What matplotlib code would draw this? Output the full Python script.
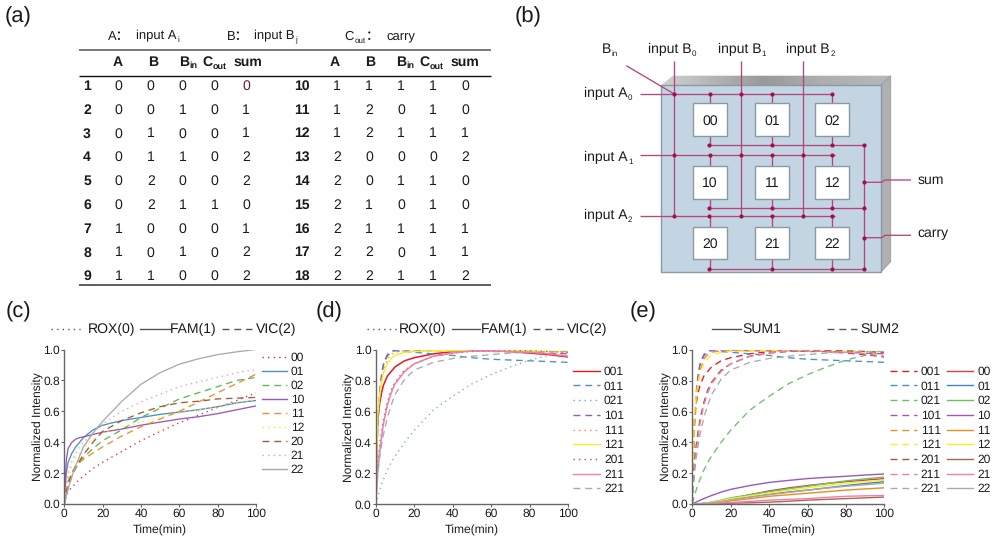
import numpy as np
import matplotlib
matplotlib.use("Agg")
import matplotlib.pyplot as plt
from matplotlib.patches import Polygon, Rectangle

plt.rcParams['font.family'] = ['Liberation Sans', 'Noto Sans CJK SC', 'DejaVu Sans']
plt.rcParams['text.hinting'] = 'none'
plt.rcParams['text.hinting_factor'] = 1

# ---------- table (a) ----------
rows_left = [[1,0,0,0,0,0],[2,0,0,1,0,1],[3,0,1,0,0,1],[4,0,1,1,0,2],[5,0,2,0,0,2],
             [6,0,2,1,1,0],[7,1,0,0,0,1],[8,1,0,1,0,2],[9,1,1,0,0,2]]
rows_right = [[10,1,1,1,1,0],[11,1,2,0,1,0],[12,1,2,1,1,1],[13,2,0,0,0,2],[14,2,0,1,1,0],
              [15,2,1,0,1,0],[16,2,1,1,1,1],[17,2,2,0,1,1],[18,2,2,1,1,2]]

# ---------- panel (c) ----------
t_c = [0,1,2,4,6,8,10,15,20,30,40,50,60,70,80,90,100]
c_names = ['00','01','02','10','11','12','20','21','22']
c_00 = [0,.05,.08,.11,.135,.16,.18,.23,.27,.34,.41,.47,.525,.575,.625,.67,.72]
c_01 = [0,.2,.27,.33,.37,.40,.43,.48,.51,.54,.56,.58,.595,.61,.63,.655,.67]
c_02 = [0,.06,.10,.18,.23,.27,.30,.36,.41,.48,.56,.62,.68,.72,.76,.80,.82]
c_10 = [0,.28,.36,.40,.42,.43,.435,.45,.465,.485,.51,.53,.55,.565,.585,.61,.635]
c_11 = [0,.1,.15,.2,.24,.27,.29,.33,.37,.44,.50,.55,.60,.66,.72,.78,.84]
c_12 = [0,.1,.17,.25,.3,.33,.36,.42,.46,.5,.53,.56,.59,.61,.63,.655,.675]
c_20 = [0,.08,.13,.2,.25,.28,.32,.40,.47,.54,.59,.63,.655,.665,.68,.685,.69]
c_21 = [0,.12,.2,.28,.33,.37,.4,.46,.52,.6,.66,.71,.76,.79,.82,.85,.87]
c_22 = [0,.05,.10,.18,.25,.31,.37,.46,.535,.665,.775,.85,.905,.94,.967,.985,1.0]
c_vals = [c_00,c_01,c_02,c_10,c_11,c_12,c_20,c_21,c_22]
c_cols = ['#e0282e','#4a90c8','#5cb85c','#9b59b6','#f28e2b','#f2ee20','#a5593a','#f78fc0','#aaaaaa']
c_ls = ['dot','solid','dash','solid','dash','dot','dash','dot','solid']

# ---------- panel (d) / SUM2 of (e) ----------
t_d = [0,1,2,3,4,6,8,10,15,20,30,40,50,60,70,80,90,100]
d_names = ['001','011','021','101','111','121','201','211','221']
d_001 = [0,.55,.65,.72,.77,.83,.86,.89,.93,.95,.975,.99,.995,.995,.99,.98,.97,.955]
d_011 = [0,.5,.7,.82,.9,.96,.985,.995,.99,.985,.975,.965,.95,.94,.935,.93,.925,.92]
d_021 = [0,.05,.09,.13,.16,.22,.27,.31,.40,.48,.61,.70,.78,.84,.89,.935,.965,.985]
d_101 = [0,.5,.72,.84,.91,.97,.99,1,1,1,.995,.995,.995,.99,.99,.985,.98,.975]
d_111 = [0,.45,.65,.78,.86,.94,.97,.985,.995,.995,.995,.995,.995,.995,.995,.99,.99,.985]
d_121 = [0,.58,.7,.79,.85,.91,.945,.965,.985,.99,.995,.995,.995,.995,.995,.995,.99,.99]
d_201 = [0,.25,.38,.47,.55,.66,.74,.79,.87,.91,.96,.98,.99,.995,.995,.995,.99,.985]
d_211 = [0,.2,.33,.43,.52,.64,.72,.78,.86,.91,.96,.98,.995,.995,.99,.985,.975,.96]
d_221 = [0,.18,.3,.38,.45,.56,.64,.71,.81,.87,.92,.945,.96,.97,.98,.985,.99,.99]
d_vals = [d_001,d_011,d_021,d_101,d_111,d_121,d_201,d_211,d_221]
d_cols = ['#e41a1c','#4a90c8','#6cc06c','#9b59b6','#f28e2b','#f5f02a','#a5593a','#f57ab0','#aaaaaa']
d_ls = ['solid','dash','dot','dash','dot','solid','dot','solid','dash']

# ---------- panel (e) SUM1 ----------
t_e = [0,5,10,15,20,30,40,50,60,70,80,90,100]
e_names = ['00','01','02','10','11','12','20','21','22']
e_00 = [0,.003,.01,.022,.035,.06,.085,.104,.12,.133,.145,.155,.165]
e_01 = [0,.002,.008,.018,.03,.048,.065,.078,.09,.105,.12,.133,.145]
e_02 = [0,.003,.012,.025,.04,.06,.08,.098,.115,.133,.15,.163,.175]
e_10 = [0,.03,.055,.077,.095,.12,.14,.153,.165,.173,.18,.188,.195]
e_11 = [0,.001,.005,.012,.02,.035,.05,.06,.07,.08,.09,.098,.105]
e_12 = [0,.002,.01,.022,.035,.053,.07,.088,.105,.12,.135,.145,.155]
e_20 = [0,.001,.002,.003,.005,.008,.012,.018,.025,.03,.035,.04,.045]
e_21 = [0,.001,.003,.006,.01,.017,.025,.03,.035,.043,.05,.053,.055]
e_22 = [0,.002,.008,.016,.025,.043,.06,.075,.09,.103,.115,.125,.135]
e_vals = [e_00,e_01,e_02,e_10,e_11,e_12,e_20,e_21,e_22]
e_cols = ['#e0403a','#3f86c0','#6cc06c','#9b59b6','#f28a1c','#f5f02a','#a5694a','#f57ab0','#aaaaaa']

LS = {'solid': '-', 'dash': (0, (5, 3.5)), 'dot': (0, (1, 3))}
TXT = '#1a1a1a'

fig = plt.figure(figsize=(9.96, 5.45), dpi=100)
bg = fig.add_axes([0, 0, 1, 1])
bg.set_xlim(0, 996); bg.set_ylim(545, 0); bg.axis('off')
rend = fig.canvas.get_renderer()


def label(x, y, s, sub=None, size=10, weight='normal', after=None, ha='left', color=TXT, subsize=None):
    t = bg.text(x, y, s, fontsize=size, fontweight=weight, va='baseline', ha=ha, color=color)
    x1 = t.get_window_extent(rend).x1
    if sub is not None:
        s2 = bg.text(x1 + 0.5, y + 3, sub, fontsize=subsize or size * 0.58, fontweight=weight,
                     va='baseline', color=color)
        x1 = s2.get_window_extent(rend).x1
    if after is not None:
        bg.text(x1, y, after, fontsize=size, fontweight=weight, va='baseline', color=color)


# panel letters
for x, y, s in [(5, 22, '(a)'), (515, 22, '(b)'), (6, 317, '(c)'), (316, 317, '(d)'), (630, 317, '(e)')]:
    bg.text(x, y, s, fontsize=15.5, color=TXT, va='baseline')

# ---------- (a) table ----------
for y, c, w in [(49.5, '#555555', 1.1), (76, '#111111', 1.0), (284.5, '#333333', 1.1)]:
    bg.plot([79, 491], [y, y], color=c, lw=w, solid_capstyle='butt')
label(108, 39.5, 'A：', size=9.5)
label(136, 39.5, 'input A', sub='i', size=9.5)
label(227, 39.5, 'B：', size=9.5)
label(254.5, 39.5, 'input B', sub='j', size=9.5)
label(344.5, 39.5, 'C', sub='out', after='：', size=9.5)
label(386.5, 39.5, 'carry', size=9.5)
for ox in (0, 217):
    bg.text(118 + ox, 65.5, 'A', fontsize=10, fontweight='bold', ha='center', color=TXT)
    bg.text(153.5 + ox, 65.5, 'B', fontsize=10, fontweight='bold', ha='center', color=TXT)
    label(179 + ox, 65.5, 'B', sub='in', size=10, weight='bold', subsize=6.5)
    label(202.5 + ox, 65.5, 'C', sub='out', size=10, weight='bold', subsize=6.5)
    bg.text(248 + ox, 65.5, 'sum', fontsize=10, fontweight='bold', ha='center', color=TXT)

row_y = 85 + 23.8 * np.arange(9) + 4.8
for rows, cols, idx_x in [(rows_left, [118.7, 150.7, 182.7, 214.7, 246.3], 87),
                          (rows_right, [337.3, 369.3, 401.3, 433, 465], 301.7)]:
    for r, y in zip(rows, row_y):
        bg.text(idx_x, y, str(r[0]), fontsize=10, fontweight='bold', ha='center', va='baseline', color=TXT)
        for j, (v, x) in enumerate(zip(r[1:], cols)):
            col = '#6b1a2a' if (r[0] == 1 and j == 4) else TXT
            bg.text(x, y, str(v), fontsize=10, ha='center', va='baseline', color=col)

# ---------- (b) diagram ----------
front = [(660.7, 85.3), (880.7, 85.3), (880.7, 272.3), (660.7, 272.3)]
top = [(660.7, 85.3), (673, 75.7), (890.7, 75.7), (880.7, 85.3)]
right = [(880.7, 85.3), (890.7, 75.7), (890.7, 261.7), (880.7, 272.3)]
gp = Polygon(top, closed=True, facecolor='none', edgecolor='none')
bg.add_patch(gp)
grad = np.interp(np.linspace(0, 1, 200), [0, .45, .7, 1], [.82, .6, .68, .72])
im = bg.imshow(grad[None, :], cmap='gray', vmin=0, vmax=1, extent=(660, 891, 86, 75), aspect='auto', zorder=1)
im.set_clip_path(gp)
bg.set_xlim(0, 996); bg.set_ylim(545, 0)
bg.add_patch(Polygon(right, closed=True, facecolor='#b0b0b0', edgecolor='#999999', lw=0.6, zorder=1))
bg.add_patch(Polygon(front, closed=True, facecolor='#c3d5e2', edgecolor='#8a9aa5', lw=1, zorder=2))

WIRE = '#b5467d'
DOT = '#a0104f'
segs = [
    ([674.3, 674.3], [61, 216]), ([741.3, 741.3], [61, 216]), ([802.7, 802.7], [61, 216]),
    ([626.3, 674.3], [65.7, 94]),
    ([640, 832.3], [94, 94]), ([640, 835], [155.3, 155.3]), ([640, 835], [216, 216]),
    ([863.7, 863.7], [145, 269]),
    ([710, 863.7], [145, 145]), ([709, 863.7], [207.7, 207.7]), ([708, 863.7], [269, 269]),
    ([863.7, 881.7, 885, 911], [182.3, 182.3, 180, 180]),
    ([863.7, 881.7, 885, 911], [237.7, 237.7, 235.3, 235.3]),
]
cols_x = [710, 772, 832.3]
for x in cols_x:
    segs += [([x, x], [94, 145]), ([x, x], [155.3, 207.7]), ([x, x], [216, 269])]
for xs, ys in segs:
    bg.plot(xs, ys, color=WIRE, lw=0.95, zorder=3, solid_capstyle='butt')
for xc in cols_x:
    for (y0, y1), rowi in zip([(103.3, 136.3), (165.7, 198.7), (226.7, 259.3)], range(3)):
        bg.add_patch(Rectangle((xc - 17, y0), 34, y1 - y0, facecolor='white', edgecolor='#8a9aa0', lw=1, zorder=4))
        bg.text(xc, (y0 + y1) / 2 + 5, f'{rowi}{cols_x.index(xc)}', fontsize=10, ha='center',
                va='baseline', color=TXT, zorder=5)
px = [674.3, 710, 741.3, 772, 832.3] + [674.3, 710, 741.3, 772, 802.7, 832.3] + [674.3, 709, 741.3, 772, 802.7, 832.3]
py = [94] * 5 + [155.3] * 6 + [216] * 6
for y in (145, 207.7, 269):
    px += [709, 772, 832.3, 863.7]
    py += [y] * 4
px += [863.7, 863.7]
py += [182.3, 237.7]
bg.scatter(px, py, s=9, color=DOT, zorder=6, linewidths=0)

label(601.5, 53, 'B', sub='in')
label(647.5, 53, 'input B', sub='0')
label(717.5, 53, 'input B', sub='1')
label(786.5, 53, 'input B', sub='2')
label(584, 97, 'input A', sub='0')
label(584, 161, 'input A', sub='1')
label(584, 219, 'input A', sub='2')
label(917.5, 183.5, 'sum')
label(917.5, 237, 'carry')


# ---------- chart axes ----------
def make_axes(x0, x1, y0, y1):
    ax = fig.add_axes([x0 / 996, 1 - y1 / 545, (x1 - x0) / 996, (y1 - y0) / 545])
    ax.patch.set_alpha(0)
    ax.set_xlim(0, 100); ax.set_ylim(0, 1)
    ax.set_xticks([0, 20, 40, 60, 80, 100]); ax.set_yticks([0, .2, .4, .6, .8, 1.0])
    ax.set_yticklabels(['0.0', '0.2', '0.4', '0.6', '0.8', '1.0'])
    for s in ('top', 'right'):
        ax.spines[s].set_visible(False)
    for s in ('left', 'bottom'):
        ax.spines[s].set_color('#666666'); ax.spines[s].set_linewidth(1.0)
    ax.tick_params(length=2, width=0.8, color='#666666', labelsize=8.8, labelcolor=TXT, pad=1)
    ax.set_xlabel('Time(min)', fontsize=8.6, color=TXT, labelpad=4)
    ax.set_ylabel('Normalized Intensity', fontsize=8.4, color=TXT)
    ax.yaxis.set_label_coords(-0.108, 0.5)
    return ax


def legend_row(x0, x1, xt, y, name, col, ls):
    bg.plot([x0, x1], [y, y], color=col, lw=1.0, ls=LS[ls])
    bg.text(xt, y + 4, name, fontsize=8.5, color=TXT, va='baseline')


def head(x0, x1, xt, ls, name):
    bg.plot([x0, x1], [328.5, 328.5], color='#555555', lw=1.0, ls=LS[ls])
    bg.text(xt, 333, name, fontsize=10.2, color=TXT, va='baseline')


ax_c = make_axes(64.3, 256, 349.5, 504)
for n, v, c, ls in zip(c_names, c_vals, c_cols, c_ls):
    ax_c.plot(t_c, v, color=c, lw=0.95, ls=LS[ls])
for i, (n, c, ls) in enumerate(zip(c_names, c_cols, c_ls)):
    legend_row(262, 287.3, 290.7, 356.7 + 14.04 * i, n, c, ls)
head(50.7, 81, 88, 'dot', 'ROX(0)')
head(140, 170, 170, 'solid', 'FAM(1)')
head(222, 252, 255.7, 'dash', 'VIC(2)')

ax_d = make_axes(375.7, 568, 350, 504.3)
for n, v, c, ls in zip(d_names, d_vals, d_cols, d_ls):
    ax_d.plot(t_d, v, color=c, lw=1.1 if ls == 'solid' else 0.95, ls=LS[ls])
for i, (n, c, ls) in enumerate(zip(d_names, d_cols, d_ls)):
    legend_row(573.3, 600, 604, 370.7 + 14.7 * i, n, c, ls)
head(367, 397, 399.3, 'dot', 'ROX(0)')
head(451.7, 480, 481, 'solid', 'FAM(1)')
head(533.3, 564, 566.7, 'dash', 'VIC(2)')

ax_e = make_axes(692.3, 884.3, 350, 504)
for n, v, c in zip(e_names, e_vals, e_cols):
    ax_e.plot(t_e, v, color=c, lw=1.0, ls='-')
for n, v, c in zip(d_names, d_vals, d_cols):
    ax_e.plot(t_d, v, color=c, lw=0.95, ls=LS['dash'])
for i, (n, c) in enumerate(zip(d_names, d_cols)):
    legend_row(890, 916.7, 920.7, 370.7 + 14.7 * i, n, c, 'dash')
for i, (n, c) in enumerate(zip(e_names, e_cols)):
    legend_row(947.3, 973.3, 977.3, 370.7 + 14.7 * i, n, c, 'solid')
head(711.7, 741, 742, 'solid', 'SUM1')
head(826.7, 857, 860, 'dash', 'SUM2')

fig.savefig('out.png', dpi=100)
